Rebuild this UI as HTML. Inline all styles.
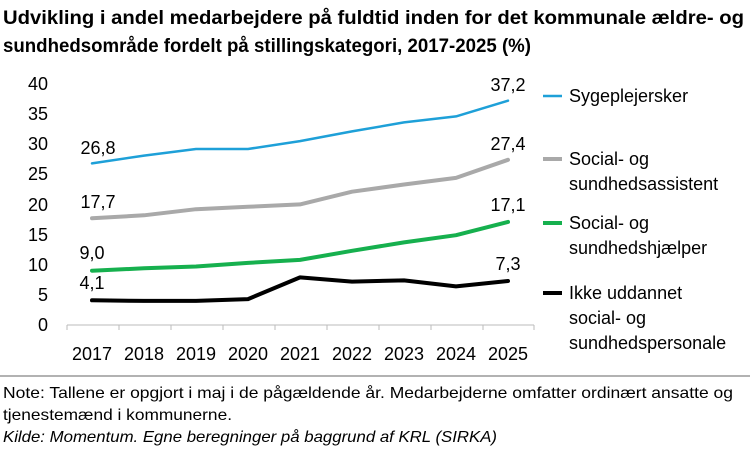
<!DOCTYPE html>
<html><head><meta charset="utf-8"><style>
body{margin:0;width:750px;height:454px;background:#fff;overflow:hidden;font-family:"Liberation Sans",sans-serif;}
</style></head><body>
<svg width="750" height="454" xmlns="http://www.w3.org/2000/svg" font-family="Liberation Sans, sans-serif">
<text x="3" y="24" font-size="19" font-weight="bold" fill="#000" textLength="741" lengthAdjust="spacingAndGlyphs">Udvikling i andel medarbejdere på fuldtid inden for det kommunale ældre- og</text>
<text x="3" y="52" font-size="19" font-weight="bold" fill="#000" textLength="528" lengthAdjust="spacingAndGlyphs">sundhedsområde fordelt på stillingskategori, 2017-2025 (%)</text>
<g font-size="18" fill="#000" text-anchor="end">
<text x="48" y="331">0</text><text x="48" y="301">5</text><text x="48" y="271">10</text><text x="48" y="241">15</text><text x="48" y="211">20</text><text x="48" y="180">25</text><text x="48" y="150">30</text><text x="48" y="120">35</text><text x="48" y="90">40</text>
</g>
<line x1="67" y1="325" x2="534" y2="325" stroke="#bbb" stroke-width="1"/>
<g stroke="#bbb"><line x1="67" y1="325" x2="67" y2="330"/><line x1="119" y1="325" x2="119" y2="330"/><line x1="171" y1="325" x2="171" y2="330"/><line x1="223" y1="325" x2="223" y2="330"/><line x1="275" y1="325" x2="275" y2="330"/><line x1="327" y1="325" x2="327" y2="330"/><line x1="379" y1="325" x2="379" y2="330"/><line x1="431" y1="325" x2="431" y2="330"/><line x1="483" y1="325" x2="483" y2="330"/><line x1="534" y1="325" x2="534" y2="330"/></g>
<g font-size="18" fill="#000" text-anchor="middle">
<text x="92" y="360">2017</text><text x="144" y="360">2018</text><text x="196" y="360">2019</text><text x="248" y="360">2020</text><text x="300" y="360">2021</text><text x="352" y="360">2022</text><text x="404" y="360">2023</text><text x="456" y="360">2024</text><text x="508" y="360">2025</text>
</g>
<g fill="none" stroke-linejoin="round" stroke-linecap="round">
<polyline stroke="#1ea0d8" stroke-width="2.5" points="92,163.4 144,155.6 196,149 248,149 300,141.1 352,131.4 404,122.4 456,116.4 508,100.7"/>
<polyline stroke="#a9a9a9" stroke-width="4" points="92,218.3 144,215.3 196,209.2 248,206.8 300,204.4 352,191.7 404,184.5 456,177.9 508,159.8"/>
<polyline stroke="#16b04e" stroke-width="4" points="92,270.7 144,268.3 196,266.5 248,262.9 300,259.9 352,250.8 404,242.4 456,235.2 508,221.9"/>
<polyline stroke="#000" stroke-width="4" points="92,300.3 144,300.9 196,300.9 248,299.1 300,277.4 352,281.6 404,280.4 456,286.4 508,281"/>
</g>
<g font-size="18" fill="#000" text-anchor="middle">
<text x="98" y="154">26,8</text><text x="98" y="208">17,7</text><text x="92" y="259">9,0</text><text x="92" y="289">4,1</text>
<text x="508" y="91">37,2</text><text x="508" y="150">27,4</text><text x="508" y="211">17,1</text><text x="508" y="270">7,3</text>
</g>
<g font-size="18" fill="#000">
<line x1="543" y1="96" x2="562" y2="96" stroke="#1ea0d8" stroke-width="2.5"/>
<text x="569" y="102">Sygeplejersker</text>
<line x1="543" y1="159" x2="562" y2="159" stroke="#a9a9a9" stroke-width="4"/>
<text x="569" y="165">Social- og</text><text x="569" y="190">sundhedsassistent</text>
<line x1="543" y1="223" x2="562" y2="223" stroke="#16b04e" stroke-width="4"/>
<text x="569" y="229">Social- og</text><text x="569" y="254">sundhedshjælper</text>
<line x1="543" y1="293" x2="562" y2="293" stroke="#000" stroke-width="4"/>
<text x="569" y="299">Ikke uddannet</text><text x="569" y="324">social- og</text><text x="569" y="349">sundhedspersonale</text>
</g>
<line x1="0" y1="376" x2="750" y2="376" stroke="#666" stroke-width="1"/>
<g font-size="16" fill="#000">
<text x="3" y="398" textLength="730" lengthAdjust="spacingAndGlyphs">Note: Tallene er opgjort i maj i de pågældende år. Medarbejderne omfatter ordinært ansatte og</text>
<text x="3" y="420" textLength="229" lengthAdjust="spacingAndGlyphs">tjenestemænd i kommunerne.</text>
<text x="3" y="442" font-style="italic" textLength="494" lengthAdjust="spacingAndGlyphs">Kilde: Momentum. Egne beregninger på baggrund af KRL (SIRKA)</text>
</g>
</svg>
</body></html>
